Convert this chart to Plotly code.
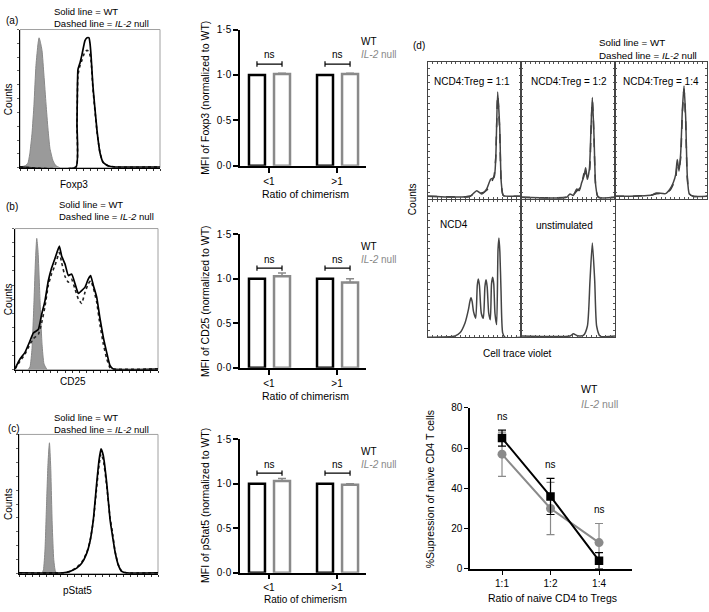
import plotly.graph_objects as go

W, H = 709, 612
FONT = "Liberation Sans, Arial, sans-serif"
GREY = "#8a8a8a"

# ---------------- DATA ----------------
# (a)-(c) bar charts: MFI normalised to WT
ratio_cats = ["<1", ">1"]
wt_mfi_a = [1.0, 1.0]
il2_mfi_a = [1.01, 1.01]
il2_err_a = [0.01, 0.01]
wt_mfi_b = [1.0, 1.0]
il2_mfi_b = [1.03, 0.96]
il2_err_b = [0.035, 0.04]
wt_mfi_c = [1.0, 1.0]
il2_mfi_c = [1.03, 0.99]
il2_err_c = [0.03, 0.01]
mfi_tickvals = [0, 0.5, 1.0, 1.5]
mfi_ticktext = ["0·0", "0·5", "1·0", "1·5"]

# (d) suppression line chart
ratio_naive = ["1:1", "1:2", "1:4"]
wt_supp = [65, 36, 4]
wt_supp_err = [4, 9, 4]
il2_supp = [57, 30, 13]
il2_supp_err = [11, 13, 9.5]
supp_tickvals = [0, 20, 40, 60, 80]

# Histograms (x: 0-100 fluorescence scale, y: 0-100 % of max counts)
foxp3_iso_x = [0, 3.6, 5.7, 7.1, 8.6, 10, 11.4, 12.9, 13.6, 14.3, 15.7, 17.1, 18.6, 20, 21.4, 23.6, 25.7, 28.6]
foxp3_iso_y = [0.7, 1.4, 3.5, 11, 25, 46, 74, 90, 94, 92, 85, 67, 46, 28, 14, 5, 1.4, 0]
foxp3_wt_x = [0, 40, 40.7, 41.4, 42.9, 44.3, 46.4, 47.9, 49.3, 50, 50.7, 52.1, 55, 57.1, 59.3, 62.9, 67.9, 100]
foxp3_wt_y = [0.5, 0.5, 32, 71, 76, 82, 92, 94, 94, 90, 82, 59, 27, 11, 4, 1.4, 0.5, 0.5]
foxp3_il2_x = [0, 40, 40.7, 41.4, 42.9, 44.3, 46.4, 47.9, 49.3, 50.7, 52.1, 55, 57.1, 59.3, 62.9, 67.9, 100]
foxp3_il2_y = [0.5, 0.5, 28, 67, 74, 78, 84, 85, 84, 78, 57, 26, 11, 4, 1.4, 0.5, 0.5]

cd25_iso_x = [9.1, 10.5, 11.9, 13.3, 14.3, 15.2, 16.1, 17.5, 18.9, 20.3, 22.4]
cd25_iso_y = [0, 2, 15, 49, 77, 93, 84, 49, 18, 4, 0]
cd25_wt_x = [0, 3.5, 7, 10.5, 12.8, 16.3, 18.6, 21, 23.3, 25.6, 28, 31, 32.6, 35, 37.3, 39.6, 42, 44.3,
             46.6, 49, 51.3, 52.9, 54.8, 57.1, 59.4, 61.8, 64.1, 66.4, 68.7, 100]
cd25_wt_y = [0.7, 7.6, 12.3, 20.4, 26, 28.5, 39, 49, 63, 72, 79, 87.5, 80.6, 74.8, 66.7, 67.8, 60.9, 54,
             56, 58.5, 64.4, 66.7, 59.7, 51.6, 36.6, 22.7, 12.3, 3, 0.5, 0.5]
cd25_il2_x = [0, 3.5, 7, 10.5, 12.8, 16.3, 18.6, 21, 23.3, 25.6, 28, 31, 32.6, 35, 37.3, 39.6, 42, 44.3,
              46.6, 49, 51.3, 52.9, 54.8, 57.1, 59.4, 61.8, 64.1, 66.4, 68.7, 100]
cd25_il2_y = [0.5, 6, 11, 18, 22, 25, 33, 45, 60, 68, 74, 83, 76, 66, 62, 64, 57, 50,
              47, 55, 61, 63, 58, 48, 32, 18, 8, 1.5, 0.5, 0.5]

pstat5_iso_x = [16.5, 17.6, 18.7, 19.8, 20.9, 21.9, 22.8, 23.9, 25, 26.1, 27.3]
pstat5_iso_y = [0, 2.8, 17, 49, 80, 94, 77, 35, 10, 2, 0]
pstat5_wt_x = [0, 31.7, 36.7, 41.5, 45.1, 48.7, 51, 53.5, 55.9, 57.6, 59, 60.6, 63.1, 65.5, 67.2, 69.1, 71.4, 73.9, 77.5, 100]
pstat5_wt_y = [0.5, 0.5, 1.6, 4, 7.5, 14.6, 22.7, 39, 65, 81.5, 89.6, 85, 65, 39, 27.5, 15.7, 6.3, 1.6, 0.5, 0.5]
pstat5_il2_x = [0, 31.7, 36.7, 41.5, 45.1, 48.7, 51, 53.5, 55.9, 57.6, 59, 60.6, 63.1, 65.5, 67.2, 69.1, 71.4, 73.9, 77.5, 100]
pstat5_il2_y = [0.5, 0.5, 1.6, 4.5, 8, 15, 23, 38, 62, 78, 86, 82, 63, 40, 30, 16, 6.5, 1.6, 0.5, 0.5]

ctv_11_x = [0, 45.2, 52.4, 57.7, 63.1, 67.4, 71, 72.8, 74.9, 77.1, 78.8, 81, 88.2, 100]
ctv_11_wt_y = [2.1, 2.1, 6.2, 3.8, 7.4, 14.5, 15.7, 28.8, 78, 52.6, 12.1, 2.6, 2.1, 2.1]
ctv_11_il2_y = [2.1, 2.1, 5.5, 4.5, 6.5, 10.9, 17, 30, 76, 50, 11, 2.6, 2.1, 2.1]

ctv_12_x = [0, 48.6, 52.1, 55.6, 59.3, 62, 64.6, 67, 68.8, 70.5, 72.7, 74.5, 75.9, 77.7, 79.5, 82.2, 100]
ctv_12_wt_y = [1.4, 1.4, 3.8, 2.6, 7.4, 6.2, 12.1, 16.9, 22.9, 14.5, 21.7, 52.6, 74, 45.5, 9.8, 1.4, 1.4]
ctv_12_il2_y = [1.4, 1.4, 3.0, 3.2, 6.0, 7.5, 10.5, 18.5, 19.0, 16.5, 19.5, 50, 72, 44, 9.0, 1.4, 1.4]

ctv_14_x = [0, 16.3, 40, 45, 55, 59.8, 63.4, 66, 67.7, 69.6, 71.4, 73.2, 75, 76.8, 78.6, 80.8, 85.1, 100]
ctv_14_wt_y = [2.1, 2.1, 3.0, 4.5, 4.0, 7.4, 12.1, 18.1, 28.8, 20.5, 33.6, 64.5, 82.4, 59.8, 16.9, 3.8, 2.1, 2.1]
ctv_14_il2_y = [2.1, 2.1, 3.0, 4.0, 4.5, 6.5, 11.0, 15.5, 25.0, 22.5, 30.0, 62.0, 80.0, 57.0, 15.0, 3.8, 2.1, 2.1]

ctv_ncd4_x = [0, 29, 34.4, 39.8, 43.4, 45, 46.2, 47.5, 48.9, 51.3, 53, 54.1, 55.3, 57.3, 59.5, 61.2, 62.4, 63.6,
              65.3, 67, 68.3, 69.5, 70.7, 72, 73.8, 75.3, 76.3, 77.3, 78.5, 80.3, 82.8, 100]
ctv_ncd4_y = [0, 1, 3.3, 10.5, 20, 26, 28.8, 26, 19, 14, 38, 42.6, 38, 17.6, 14, 37, 41.9, 37,
              17.6, 12.9, 39, 43.8, 39, 17.6, 9.3, 64, 72.4, 62, 34.3, 3.3, 0, 0]

ctv_unst_x = [0, 52.1, 55.7, 59.3, 66.3, 70.6, 73.4, 75.9, 78.4, 80.5, 84, 100]
ctv_unst_y = [1, 1, 2.6, 1.4, 1.4, 8.1, 41.4, 68.8, 41.4, 8.1, 1, 1]


# ---------------- HELPERS ----------------
def dx(p0, p1):
    return [p0 / W, p1 / W]


def dy(top, bottom):
    return [1 - bottom / H, 1 - top / H]


def axn(i):
    s = "" if i == 1 else str(i)
    return "x" + s, "y" + s, "xaxis" + s, "yaxis" + s


def ann(text, px, py, size=10, xanchor="center", yanchor="middle", color="black", angle=0):
    return dict(text=text, x=px / W, y=1 - py / H, xref="paper", yref="paper", showarrow=False,
                font=dict(size=size, color=color, family=FONT), xanchor=xanchor, yanchor=yanchor,
                textangle=angle, borderpad=0, align="left" if xanchor == "left" else "center")


LINE_KEY = "Solid line = WT<br>Dashed line = <i>IL-2</i> null"
BAR_KEY = f"WT<br><span style='color:{GREY}'><i>IL-2</i> null</span>"

fig = go.Figure()
layout = dict(width=W, height=H, margin=dict(l=0, r=0, t=0, b=0), autosize=False,
              paper_bgcolor="white", plot_bgcolor="white", showlegend=False,
              font=dict(family=FONT, size=10, color="black"), barmode="overlay")
shapes = []
annotations = []

# ---------------- HISTOGRAMS (a)-(c) ----------------
hist_specs = [
    (1, (20, 160), (24, 165), foxp3_iso_x, foxp3_iso_y, foxp3_il2_x, foxp3_il2_y, foxp3_wt_x, foxp3_wt_y),
    (2, (15, 158), (227, 371), cd25_iso_x, cd25_iso_y, cd25_il2_x, cd25_il2_y, cd25_wt_x, cd25_wt_y),
    (3, (19, 158), (437, 579), pstat5_iso_x, pstat5_iso_y, pstat5_il2_x, pstat5_il2_y, pstat5_wt_x, pstat5_wt_y),
]
for i, xd, yd, isx, isy, ilx, ily, wtx, wty in hist_specs:
    xa, ya, xk, yk = axn(i)
    fig.add_trace(go.Scatter(x=isx, y=isy, mode="lines", fill="tozeroy", fillcolor="#9a9a9a",
                             line=dict(color="#888", width=1, shape="spline", smoothing=0.5),
                             xaxis=xa, yaxis=ya))
    fig.add_trace(go.Scatter(x=ilx, y=ily, mode="lines",
                             line=dict(color="#222", width=1.6, dash="dot", shape="spline", smoothing=0.4),
                             xaxis=xa, yaxis=ya))
    fig.add_trace(go.Scatter(x=wtx, y=wty, mode="lines",
                             line=dict(color="black", width=1.7, shape="spline", smoothing=0.4),
                             xaxis=xa, yaxis=ya))
    layout[xk] = dict(domain=dx(*xd), range=[0, 100], showline=True, linecolor="black", linewidth=1.3,
                      ticks="outside", ticklen=2, tickcolor="#333", dtick=5, showticklabels=False,
                      showgrid=False, zeroline=False, anchor=ya)
    layout[yk] = dict(domain=dy(*yd), range=[0, 100], showline=True, linecolor="black", linewidth=1.3,
                      ticks="outside", ticklen=2, tickcolor="#666", dtick=10, showticklabels=False,
                      showgrid=False, zeroline=False, anchor=xa)
    shapes.append(dict(type="rect", xref=f"{xa} domain", yref=f"{ya} domain", x0=0, x1=1, y0=0, y1=1,
                       line=dict(color="#a0a0a0", width=1), layer="below"))

# ---------------- BAR CHARTS (a)-(c) ----------------
BAR_W = 0.235
WT_OFF = -0.294
IL_OFF = 0.074
bar_specs = [
    (4, (24, 163), wt_mfi_a, il2_mfi_a, il2_err_a, "Foxp3"),
    (5, (233, 369), wt_mfi_b, il2_mfi_b, il2_err_b, "CD25"),
    (6, (442, 578), wt_mfi_c, il2_mfi_c, il2_err_c, "pStat5"),
]
for i, yd, wt, il, er, marker_name in bar_specs:
    xa, ya, xk, yk = axn(i)
    fig.add_trace(go.Bar(x=ratio_cats, y=wt, offset=WT_OFF, width=BAR_W,
                         marker=dict(color="white", line=dict(color="black", width=2.5)),
                         xaxis=xa, yaxis=ya))
    fig.add_trace(go.Bar(x=ratio_cats, y=il, offset=IL_OFF, width=BAR_W,
                         marker=dict(color="white", line=dict(color=GREY, width=2.5)),
                         error_y=dict(type="data", array=er, arrayminus=[0] * len(er), symmetric=False,
                                      color=GREY, thickness=1.5, width=4),
                         xaxis=xa, yaxis=ya))
    layout[xk] = dict(domain=dx(240, 366), range=[-0.426, 1.426], type="category",
                      showline=True, linecolor="black", linewidth=1.5, ticks="outside", ticklen=5,
                      tickwidth=1.5, tickcolor="black", showgrid=False, zeroline=False, anchor=ya,
                      tickfont=dict(size=10, family=FONT))
    layout[yk] = dict(domain=dy(*yd), range=[0, 1.5], showline=True, linecolor="black", linewidth=1.5,
                      ticks="outside", ticklen=5, tickwidth=1.5, tickcolor="black",
                      tickvals=mfi_tickvals, ticktext=mfi_ticktext, showgrid=False, zeroline=False,
                      anchor=xa, tickfont=dict(size=10, family=FONT))
    wt_c = WT_OFF + BAR_W / 2
    il_c = IL_OFF + BAR_W / 2
    for g in range(len(ratio_cats)):
        x0, x1 = g + wt_c, g + il_c
        shapes.append(dict(type="line", xref=xa, yref=ya, x0=x0, x1=x1, y0=1.12, y1=1.12,
                           line=dict(color="black", width=1.2)))
        for xx in (x0, x1):
            shapes.append(dict(type="line", xref=xa, yref=ya, x0=xx, x1=xx, y0=1.09, y1=1.15,
                               line=dict(color="black", width=1.2)))
        annotations.append(dict(text="ns", x=g + (wt_c + il_c) / 2, y=1.22, xref=xa, yref=ya,
                                showarrow=False, font=dict(size=10, family=FONT), yanchor="middle"))
    top, bot = yd
    annotations.append(ann(f"MFI of {marker_name} (normalized to WT)", 205, (top + bot) / 2, size=10.5,
                           angle=-90))
    annotations.append(ann("Ratio of chimerism", 305, min(bot + 29, 605.5), size=10.5 if bot < 500 else 10))
    annotations.append(ann(BAR_KEY, 360, top + 19, size=10, xanchor="left"))

# ---------------- (d) CTV HISTOGRAMS ----------------
box_specs = [
    (7, (428, 521), (57, 197), ctv_11_x, ctv_11_il2_y, ctv_11_wt_y),
    (8, (521, 615), (57, 197), ctv_12_x, ctv_12_il2_y, ctv_12_wt_y),
    (9, (615, 707), (57, 197), ctv_14_x, ctv_14_il2_y, ctv_14_wt_y),
    (10, (428, 521), (198, 338), ctv_ncd4_x, None, ctv_ncd4_y),
    (11, (521, 615), (198, 338), ctv_unst_x, None, ctv_unst_y),
]
for i, xd, yd, hx, hil, hwt in box_specs:
    xa, ya, xk, yk = axn(i)
    if hil is not None:
        fig.add_trace(go.Scatter(x=hx, y=hil, mode="lines",
                                 line=dict(color="#333", width=1.5, dash="dash", shape="spline", smoothing=0.6),
                                 xaxis=xa, yaxis=ya))
    fig.add_trace(go.Scatter(x=hx, y=hwt, mode="lines",
                             line=dict(color="#444", width=1.5, shape="spline", smoothing=0.6),
                             xaxis=xa, yaxis=ya))
    layout[xk] = dict(domain=dx(*xd), range=[0, 100], showline=True, mirror="ticks", linecolor="#444",
                      linewidth=1.3, ticks="inside", ticklen=2, tickcolor="#555", dtick=5,
                      showticklabels=False, showgrid=False, zeroline=False, anchor=ya)
    layout[yk] = dict(domain=dy(*yd), range=[0, 100], showline=True, mirror="ticks", linecolor="#444",
                      linewidth=1.3, ticks="inside", ticklen=2, tickcolor="#555", dtick=5,
                      showticklabels=False, showgrid=False, zeroline=False, anchor=xa)

# ---------------- (d) SUPPRESSION LINE CHART ----------------
fig.add_trace(go.Scatter(x=ratio_naive, y=il2_supp, mode="lines+markers",
                         line=dict(color=GREY, width=2), marker=dict(symbol="circle", size=9, color=GREY),
                         error_y=dict(type="data", array=il2_supp_err, color=GREY, thickness=1.2, width=4),
                         xaxis="x12", yaxis="y12"))
fig.add_trace(go.Scatter(x=ratio_naive, y=wt_supp, mode="lines+markers",
                         line=dict(color="black", width=2), marker=dict(symbol="square", size=8.5, color="black"),
                         error_y=dict(type="data", array=wt_supp_err, color="black", thickness=1.2, width=4),
                         xaxis="x12", yaxis="y12"))
layout["xaxis12"] = dict(domain=dx(470, 632), range=[-0.66, 2.68], type="category", showline=True,
                         linecolor="black", linewidth=1.5, ticks="outside", ticklen=5, tickwidth=1.3,
                         tickcolor="black", showgrid=False, zeroline=False, anchor="y12",
                         tickfont=dict(size=10, family=FONT))
layout["yaxis12"] = dict(domain=dy(410, 574), range=[0, 80], showline=True, linecolor="black", linewidth=1.5,
                         ticks="outside", ticklen=4, tickwidth=1.3, tickcolor="black", tickvals=supp_tickvals,
                         showgrid=False, zeroline=False, anchor="x12", tickfont=dict(size=10, family=FONT))
for k, lab in enumerate(ratio_naive):
    annotations.append(dict(text="ns", x=k, y=max(wt_supp[k] + wt_supp_err[k], il2_supp[k] + il2_supp_err[k]) + 7,
                            xref="x12", yref="y12", showarrow=False, font=dict(size=10, family=FONT),
                            yanchor="middle"))

# ---------------- TEXT ----------------
annotations += [
    ann("(a)", 12, 15), ann("(b)", 12, 205), ann("(c)", 14, 431), ann("(d)", 419, 40),
    ann(LINE_KEY, 53, 11.5, size=9.5, xanchor="left"),
    ann(LINE_KEY, 58, 209, size=9.5, xanchor="left"),
    ann(LINE_KEY, 53, 426, size=9.5, xanchor="left"),
    ann("Counts", 8, 95, angle=-90), ann("Counts", 8, 299, angle=-90), ann("Counts", 8, 508, angle=-90),
    ann("Foxp3", 74, 182), ann("CD25", 73, 383), ann("pStat5", 77, 596),
    ann(LINE_KEY, 598, 44, size=9.8, xanchor="left"),
    ann("NCD4:Treg = 1:1", 472, 77), ann("NCD4:Treg = 1:2", 569, 77), ann("NCD4:Treg = 1:4", 661, 77),
    ann("NCD4", 439, 223, xanchor="left"), ann("unstimulated", 564, 224),
    ann("Counts", 412, 197, angle=-90),
    ann("Cell trace violet", 517, 354),
    ann("WT", 580, 391, size=10.5, xanchor="left"),
    ann("<i>IL-2</i> null", 580, 406, size=10.5, xanchor="left", color=GREY),
    ann("%Supression of naive CD4 T cells", 430, 493, size=10.5, angle=-90),
    ann("Ratio of naive CD4 to Tregs", 552, 604, size=10.5),
]

layout["shapes"] = shapes
layout["annotations"] = annotations
fig.update_layout(**layout)
fig.write_html("out.html", config={"displayModeBar": False},
               post_script="document.body.style.margin='0px';")
